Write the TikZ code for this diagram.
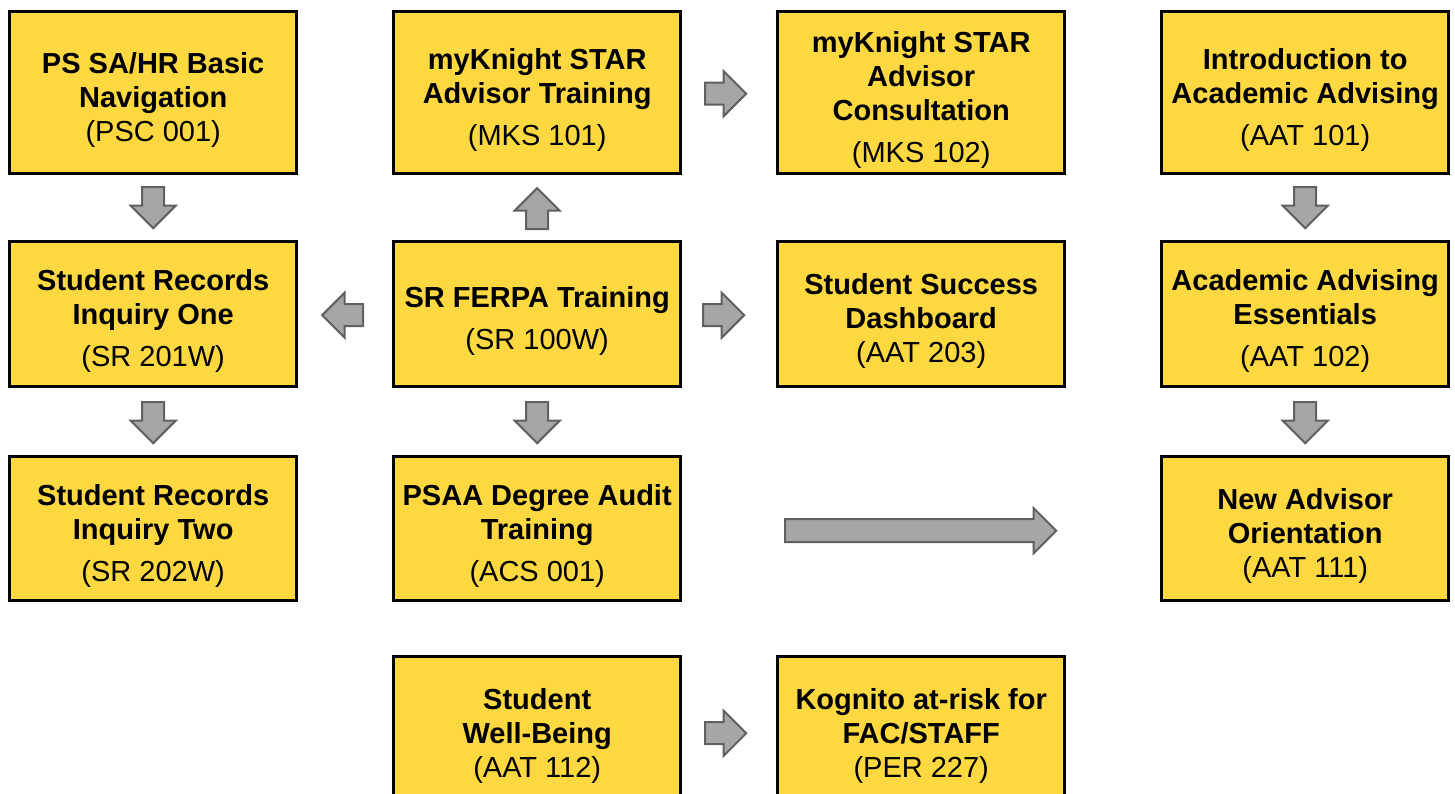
\documentclass[tikz,border=0pt]{standalone}
\usepackage{fontspec}
\setmainfont{Liberation Sans}
\usetikzlibrary{positioning,calc,shapes.arrows}

\definecolor{gold}{RGB}{254,216,64}
\definecolor{arrowfill}{RGB}{166,166,166}
\definecolor{arrowline}{RGB}{96,96,96}

% extra room above the first line of a course box
\newcommand{\lift}{\rule{0pt}{35pt}}

\begin{document}
\begin{tikzpicture}[x=1pt, y=-1pt]
        \tikzstyle{course}=[draw, line width=3pt, fill=gold, minimum width=287pt, align=center, inner sep=2pt,
                            font=\fontsize{29}{34}\selectfont]
        \tikzstyle{flow}=[single arrow, draw=arrowline, line width=2pt, fill=arrowfill, inner xsep=0pt, inner ysep=10pt,
                          minimum height=41pt, minimum width=43pt, single arrow head extend=11.5pt, anchor=tail]

        \clip (0,0) rectangle (1455,794);

        \matrix (plan) [anchor=north west, inner sep=0pt, column sep=94pt,
                        row 1/.style={nodes={minimum height=162pt}},
                        row 2/.style={nodes={minimum height=145pt}},
                        row 3/.style={nodes={minimum height=144pt}},
                        row 4/.style={nodes={minimum height=145pt}}] at (8,10) {
            \node (psc001) [course] {\lift\textbf{PS SA/HR Basic}\\\textbf{Navigation}\\(PSC 001)}; &
            \node (mks101) [course] {\lift\textbf{myKnight STAR}\\\textbf{Advisor Training}\\[8pt](MKS 101)}; &
            \node (mks102) [course] {\lift\textbf{myKnight STAR}\\\textbf{Advisor}\\\textbf{Consultation}\\[8pt](MKS 102)}; &
            \node (aat101) [course] {\lift\textbf{Introduction to}\\\textbf{Academic Advising}\\[8pt](AAT 101)}; \\[65pt]
            \node (sr201) [course] {\lift\textbf{Student Records}\\\textbf{Inquiry One}\\[8pt](SR 201W)}; &
            \node (sr100) [course] {\lift\textbf{SR FERPA Training}\\[8pt](SR 100W)}; &
            \node (aat203) [course] {\lift\textbf{Student Success}\\\textbf{Dashboard}\\(AAT 203)}; &
            \node (aat102) [course] {\lift\textbf{Academic Advising}\\\textbf{Essentials}\\[8pt](AAT 102)}; \\[67pt]
            \node (sr202) [course] {\lift\textbf{Student Records}\\\textbf{Inquiry Two}\\[8pt](SR 202W)}; &
            \node (acs001) [course] {\lift\textbf{PSAA Degree Audit}\\\textbf{Training}\\[8pt](ACS 001)}; &
            &
            \node (aat111) [course] {\lift\textbf{New Advisor}\\\textbf{Orientation}\\(AAT 111)}; \\[53pt]
            &
            \node (aat112) [course] {\lift\textbf{Student}\\\textbf{Well-Being}\\(AAT 112)}; &
            \node (per227) [course] {\lift\textbf{Kognito at-risk for}\\\textbf{FAC/STAFF}\\(PER 227)}; &
            \\
        };

        % block arrows, each one hung on the box it starts from
        \node (a1) [flow, rotate=-90] at ($(psc001.south)+(0,11)$) {};
        \node (a2) [flow, rotate=-90] at ($(sr201.south)+(0,13)$) {};
        \node (a3) [flow, rotate=90] at ($(sr100.north)+(0,-10)$) {};
        \node (a4) [flow, rotate=-90] at ($(sr100.south)+(0,13)$) {};
        \node (a5) [flow, rotate=180] at ($(sr100.west)+(-28,1)$) {};
        \node (a6) [flow] at ($(sr100.east)+(20,1)$) {};
        \node (a7) [flow] at ($(mks101.east)+(22,1)$) {};
        \node (a8) [flow, rotate=-90] at ($(aat101.south)+(0,11)$) {};
        \node (a9) [flow, rotate=-90] at ($(aat102.south)+(0,13)$) {};
        \node (a10) [flow] at ($(aat112.east)+(22,4)$) {};
        % long arrow from the degree audit over to the orientation
        \node (wide) [flow, minimum height=271pt, inner ysep=10.5pt, single arrow head extend=11pt]
              at ($(acs001.east)+(102,2)$) {};

    \end{tikzpicture}
\end{document}
